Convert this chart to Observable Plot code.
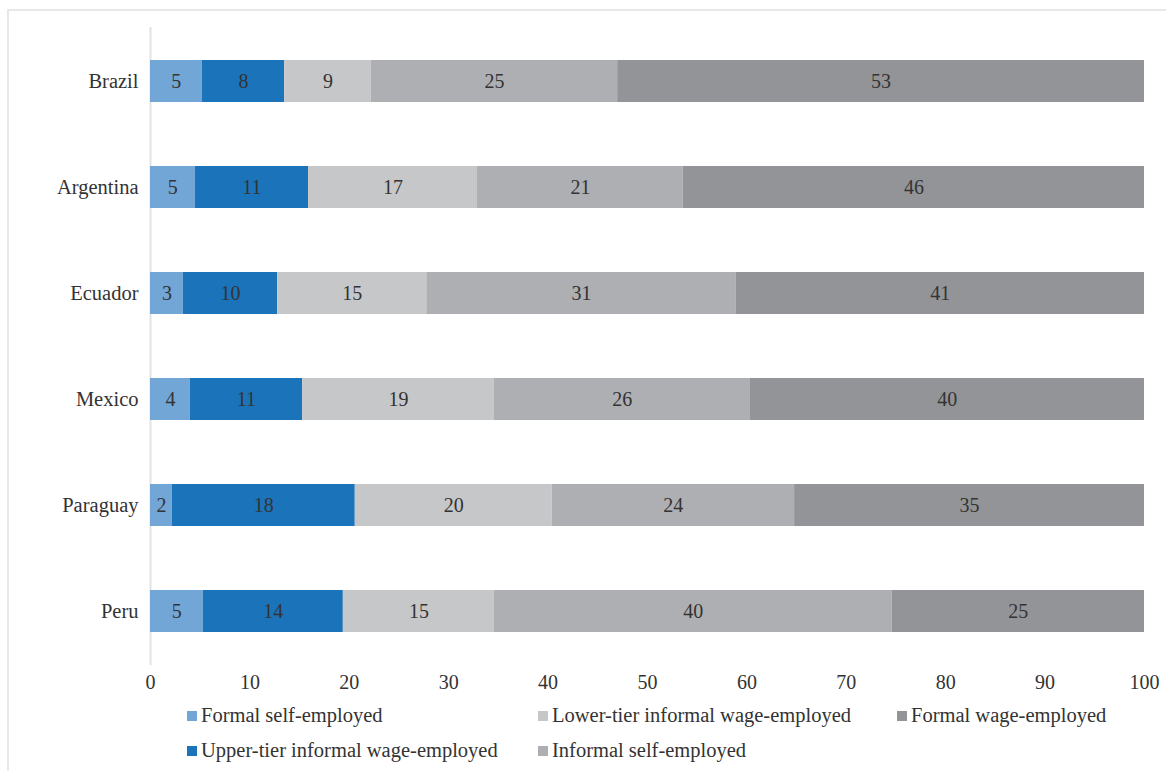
<!DOCTYPE html>
<html>
<head>
<meta charset="utf-8">
<script src="https://cdn.jsdelivr.net/npm/d3@7"></script>
<script src="https://cdn.jsdelivr.net/npm/@observablehq/plot@0.6"></script>
<style>
  html, body { margin: 0; padding: 0; background: #fff; overflow: hidden; }
  body { width: 1166px; height: 771px; position: relative; font-family: "Liberation Serif", "DejaVu Serif", serif; }
  #frame { position: absolute; left: 7px; top: 9px; width: 1180px; height: 790px; border: 2px solid #e8e8e8; box-sizing: border-box; }
  #chart { position: absolute; left: 0; top: 0; }
  #legend { position: absolute; left: 0; top: 700px; width: 1166px; font-size: 20.5px; color: #333; }
  .item { position: absolute; display: flex; align-items: center; white-space: nowrap; }
  .sw { width: 10px; height: 10px; margin-right: 4px; }
</style>
</head>
<body>
<div id="frame"></div>
<div id="chart"></div>
<div id="legend"></div>
<script>
const countries = ["Brazil", "Argentina", "Ecuador", "Mexico", "Paraguay", "Peru"];
const categories = [
  "Formal self-employed",
  "Upper-tier informal wage-employed",
  "Lower-tier informal wage-employed",
  "Informal self-employed",
  "Formal wage-employed"
];
const colors = ["#72a6d7", "#1b73ba", "#c6c7c9", "#aeafb2", "#939497"];
const formalSelf   = [5.2, 4.5, 3.3, 4.0, 2.2, 5.3];
const upperTier    = [8.3, 11.4, 9.5, 11.3, 18.4, 14.1];
const lowerTier    = [8.7, 17.0, 15.0, 19.3, 19.8, 15.2];
const informalSelf = [24.8, 20.7, 31.1, 25.7, 24.4, 40.0];
const formalWage   = [53.0, 46.4, 41.1, 39.7, 35.2, 25.4];
const xTicks = [0, 10, 20, 30, 40, 50, 60, 70, 80, 90, 100];

const series = [formalSelf, upperTier, lowerTier, informalSelf, formalWage];
const data = [];
categories.forEach((cat, i) => {
  countries.forEach((c, j) => {
    data.push({country: c, category: cat, value: series[i][j]});
  });
});

const stackOpts = {x: "value", y: "country", z: "category", order: categories};

const chart = Plot.plot({
  width: 1166,
  height: 700,
  marginTop: 27,
  marginBottom: 35,
  marginLeft: 150,
  marginRight: 22,
  style: {fontFamily: "'Liberation Serif', 'DejaVu Serif', serif", fontSize: "20px", color: "#333", background: "transparent"},
  x: {domain: [0, 100], ticks: xTicks, label: null},
  y: {domain: countries, paddingInner: 0.6, paddingOuter: 0.3, label: null},
  color: {domain: categories, range: colors},
  marks: [
    Plot.ruleX([0], {stroke: "#e2e2e2", strokeWidth: 2}),
    Plot.barX(data, Plot.stackX({...stackOpts, fill: "category"})),
    Plot.textX(data, Plot.stackX({...stackOpts, text: d => String(Math.round(d.value)), fill: "#333", fontSize: 20})),
    Plot.axisX({ticks: xTicks, tickSize: 0, tickPadding: 9, fontSize: 20, fill: "#333", label: null}),
    Plot.axisY({tickSize: 0, tickPadding: 12, fontSize: 20.5, fill: "#333", label: null})
  ]
});
document.getElementById("chart").appendChild(chart);

const legend = document.getElementById("legend");
const pos = [[187, 16], [187, 51], [538, 16], [538, 51], [897, 16]];
categories.forEach((cat, k) => {
  const it = document.createElement("div");
  it.className = "item";
  it.style.left = pos[k][0] + "px";
  it.style.top = (pos[k][1] - 12) + "px";
  const sw = document.createElement("span");
  sw.className = "sw";
  sw.style.background = colors[k];
  const t = document.createElement("span");
  t.textContent = cat;
  it.appendChild(sw);
  it.appendChild(t);
  legend.appendChild(it);
});
</script>
</body>
</html>
